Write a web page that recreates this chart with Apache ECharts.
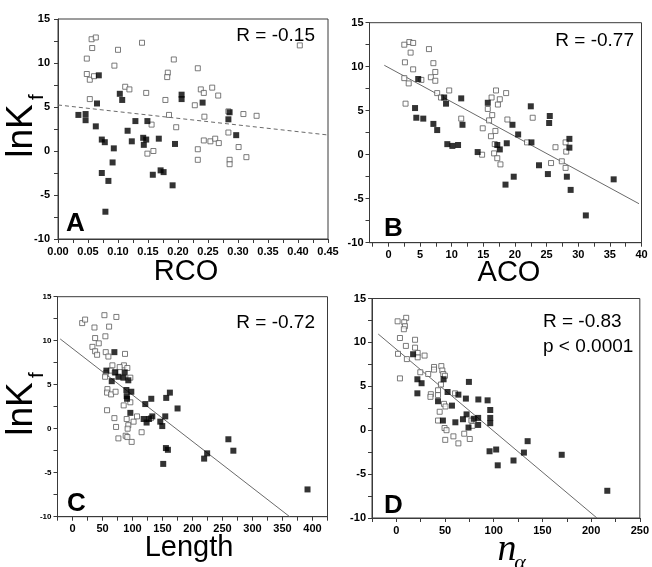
<!DOCTYPE html>
<html><head><meta charset="utf-8">
<script src="https://cdn.jsdelivr.net/npm/echarts/dist/echarts.min.js"></script>
<style>html,body{margin:0;padding:0;background:#fff}#c{width:652px;height:567px}</style>
</head><body><div id="c"></div>
<script>
// ---------- data ----------
const rcoFilled = [[0.034,4.1],[0.046,4.2],[0.046,3.5],[0.068,8.6],[0.065,5.4],[0.063,2.8],[0.073,1.3],[0.078,1.0],[0.073,-2.5],[0.084,-3.4],[0.079,-6.9],[0.093,0.3],[0.091,-1.3],[0.103,6.5],[0.107,5.8],[0.116,2.3],[0.123,1.1],[0.129,3.4],[0.142,1.5],[0.143,0.7],[0.147,1.3],[0.149,3.4],[0.158,-2.7],[0.168,1.4],[0.171,-2.2],[0.176,-2.4],[0.191,-3.9],[0.195,0.8],[0.206,6.4],[0.206,5.9],[0.241,5.5],[0.286,4.4],[0.284,3.6],[0.297,1.8]];
const rcoOpen = [[0.056,12.7],[0.063,12.9],[0.057,11.7],[0.048,10.5],[0.048,8.75],[0.053,8.1],[0.060,8.5],[0.053,5.9],[0.100,11.5],[0.094,9.7],[0.112,7.3],[0.119,7.0],[0.140,12.3],[0.147,6.6],[0.149,-0.3],[0.159,0.0],[0.156,3.0],[0.179,5.8],[0.185,4.1],[0.183,8.9],[0.182,8.4],[0.193,10.4],[0.197,2.7],[0.233,9.4],[0.228,5.2],[0.238,7.0],[0.243,6.6],[0.257,7.2],[0.267,6.3],[0.244,3.9],[0.233,0.2],[0.233,-1.0],[0.243,1.2],[0.254,1.1],[0.262,1.4],[0.268,0.9],[0.284,4.5],[0.284,2.1],[0.286,-1.0],[0.286,-1.5],[0.301,0.45],[0.309,4.2],[0.314,-0.7],[0.331,4.0],[0.403,12.0]];
const rcoFit = [[0,5.23],[0.45,1.82]];

const acoFilled = [[4.7,8.6],[4.2,5.3],[4.4,4.2],[5.5,4.1],[7.1,3.5],[7.7,2.8],[8.8,6.5],[9.1,5.8],[9.3,1.2],[10.1,1.0],[11.0,1.1],[11.5,6.4],[11.7,3.4],[14.1,0.3],[15.7,5.9],[17.2,1.1],[17.6,0.6],[18.5,-3.4],[18.7,1.3],[19.6,3.4],[19.8,-2.5],[20.5,2.3],[22.5,5.5],[22.6,1.4],[23.8,-1.2],[25.2,-2.2],[25.4,3.6],[25.5,4.4],[28.2,-2.5],[28.6,1.8],[28.6,0.8],[28.8,-4.0],[31.2,-6.9],[35.6,-2.8]];
const acoOpen = [[3.3,12.8],[2.5,12.5],[3.9,12.7],[3.5,11.6],[2.6,10.5],[3.9,9.7],[2.5,8.7],[3.2,8.1],[5.2,8.5],[2.7,5.8],[6.4,12.0],[7.1,10.4],[7.4,9.4],[6.7,8.8],[7.4,8.4],[7.7,7.0],[8.3,6.5],[9.6,7.3],[11.5,4.1],[14.9,3.0],[14.8,0.0],[17.0,7.3],[16.3,6.5],[17.3,5.7],[17.6,6.3],[18.6,7.0],[15.7,5.2],[15.9,3.9],[16.4,4.5],[16.2,2.1],[16.9,2.7],[16.8,1.2],[16.7,0.15],[17.2,-0.4],[17.7,-1.1],[18.8,4.0],[21.9,1.4],[22.8,4.2],[25.7,-0.95],[26.4,0.85],[27.4,-0.75],[28.0,1.4],[28.1,0.35],[28.0,-1.5]];
const acoFit = [[-0.66,10.16],[39.6,-5.57]];

const lengthFilled = [[69.8,8.7],[71.3,6.4],[56.5,6.6],[65.4,5.4],[76.5,5.9],[84.8,5.8],[87,6.4],[93,5.5],[89.8,4.4],[98,4.2],[90.3,3.7],[90.9,3.4],[96.4,1.8],[121.3,2.8],[131.3,3.4],[133,1.4],[118.6,1.1],[123.5,0.7],[127.4,1.1],[146.3,0.8],[149.6,0.3],[154.6,1.4],[156.2,3.5],[162.3,4.1],[175.1,2.3],[155.7,-2.2],[159,-2.4],[151.2,-4.0],[219.4,-3.4],[224.4,-2.8],[259.8,-1.2],[268.1,-2.5],[391.7,-6.9]];
const lengthOpen = [[16.1,12.0],[21,12.4],[53.2,12.9],[73.1,12.7],[61,11.6],[36.6,11.5],[54.8,10.5],[37.7,10.3],[43.8,9.7],[33.2,9.3],[37.7,8.8],[41,8.4],[55.4,8.7],[59.8,8.2],[87.5,8.5],[66.5,7.2],[85.7,7.2],[78.7,7.0],[63.7,6.6],[70.4,6.4],[91.4,6.9],[96.4,5.8],[55.4,6.3],[54.3,5.9],[58.2,4.5],[57.6,4.1],[64.3,3.9],[71.8,4.2],[96.4,3.0],[85.3,2.65],[57.6,2.1],[69.8,1.2],[72.6,0.2],[90.3,1.1],[93,0.4],[91.9,0.0],[101.8,0.8],[107.5,1.4],[115.2,-0.4],[130.7,1.2],[76.5,-1.1],[88.6,-0.8],[91.4,-0.95],[98.6,-1.5]];
const lengthFit = [[-20.5,10.2],[362,-10]];

const nAlphaFilled = [[17.2,8.65],[21.6,5.8],[25.9,5.35],[21.6,4.2],[48.5,5.8],[42.8,3.3],[47.8,1.1],[52.6,4.35],[57.1,2.8],[63.7,4.05],[71.4,3.6],[74.5,5.5],[84.2,3.5],[93.7,3.4],[96.4,2.3],[96.4,1.4],[96.4,0.8],[72.1,1.8],[68.4,1.25],[79.5,1.3],[84,1.4],[84,0.6],[74.1,0.3],[60.6,0.9],[95.7,-2.4],[102.5,-2.2],[104.1,-4.0],[120.3,-3.45],[131,-2.55],[134.8,-1.25],[169.8,-2.8],[216.6,-6.9]];
const nAlphaOpen = [[1.3,12.4],[10.1,12.8],[8.1,12.3],[8.8,11.85],[7.7,11.5],[3.7,10.5],[9.8,9.6],[1.7,8.7],[10.8,8.1],[3.7,5.9],[19.2,10.3],[19.2,9.4],[21.9,8.8],[21.9,8.3],[29,8.5],[24.6,6.6],[32.7,6.4],[38.7,7.2],[38.7,6.9],[46.2,7.3],[47.2,6.8],[48.2,6.4],[49.9,6.2],[45.8,5.2],[42.8,4.55],[35.4,4.1],[35,3.8],[42.8,4.0],[60.3,4.2],[48.9,3.0],[50.5,2.7],[44.5,2.1],[42.8,1.1],[49.5,0.25],[51.5,0.0],[50.2,-1.1],[58.6,-0.7],[63.7,-1.5],[69.7,-0.4],[75.4,-1.0],[78.2,0.5],[77.1,1.1]];
const nAlphaFit = [[-18.6,10.95],[206,-10]];

const yLabels = [-10,-5,0,5,10,15];
const yTicks = [-10,-7.5,-5,-2.5,0,2.5,5,7.5,10,12.5,15];
const rcoLabels = [0,0.05,0.1,0.15,0.2,0.25,0.3,0.35,0.4,0.45];
const rcoTicks = [0,0.025,0.05,0.075,0.1,0.125,0.15,0.175,0.2,0.225,0.25,0.275,0.3,0.325,0.35,0.375,0.4,0.425,0.45];
const acoLabels = [0,5,10,15,20,25,30,35,40];
const acoTicks = [-2.5,0,2.5,5,7.5,10,12.5,15,17.5,20,22.5,25,27.5,30,32.5,35,37.5,40];
const lengthLabels = [0,50,100,150,200,250,300,350,400];
const lengthTicks = [-25,0,25,50,75,100,125,150,175,200,225,250,275,300,325,350,375,400,425];
const nAlphaLabels = [0,50,100,150,200,250];
const nAlphaTicks = [-25,0,25,50,75,100,125,150,175,200,225,250];

const rTexts = ['R = -0.15','R = -0.77','R = -0.72','R = -0.83'];
const pText = 'p < 0.0001';
const panelLetters = ['A','B','C','D'];
const xTitles = ['RCO','ACO','Length'];

// ---------- build ----------
const FF = '"Liberation Sans", Arial, Helvetica, sans-serif';
const AX = '#3a3a3a';
const panels = [
  {grid:{left:58,top:19,width:270,height:220}, min:0, max:0.45, labels:rcoLabels, ticks:rcoTicks, fmt:v=>v.toFixed(2), filled:rcoFilled, open:rcoOpen, fit:rcoFit, dashed:true, ySize:11, yMargin:8},
  {grid:{left:369.5,top:22.7,width:272,height:220}, min:-3, max:40, labels:acoLabels, ticks:acoTicks, fmt:v=>String(v), filled:acoFilled, open:acoOpen, fit:acoFit, dashed:false, ySize:11, yMargin:6},
  {grid:{left:57.5,top:296.7,width:270,height:220}, min:-25, max:425, labels:lengthLabels, ticks:lengthTicks, fmt:v=>String(v), filled:lengthFilled, open:lengthOpen, fit:lengthFit, dashed:false, ySize:8, yMargin:6},
  {grid:{left:372,top:298.5,width:271,height:219.5}, min:-25, max:250, labels:nAlphaLabels, ticks:nAlphaTicks, fmt:v=>String(v), filled:nAlphaFilled, open:nAlphaOpen, fit:nAlphaFit, dashed:false, ySize:11, yMargin:6}
];

const grid=[], xAxis=[], yAxis=[], series=[];
panels.forEach((p,i)=>{
  grid.push(Object.assign({show:true, borderColor:AX, borderWidth:1, backgroundColor:'transparent', containLabel:false}, p.grid));
  xAxis.push({gridIndex:i, type:'value', min:p.min, max:p.max,
    axisLine:{show:true, onZero:false, lineStyle:{color:AX,width:1}},
    axisTick:{show:true, inside:false, length:4, customValues:p.ticks, lineStyle:{color:AX,width:1}},
    axisLabel:{show:true, customValues:p.labels, formatter:p.fmt, color:'#000', fontWeight:'bold', fontSize:11, fontFamily:FF, margin:7, hideOverlap:false},
    splitLine:{show:false}});
  yAxis.push({gridIndex:i, type:'value', min:-10, max:15,
    axisLine:{show:true, onZero:false, lineStyle:{color:AX,width:1}},
    axisTick:{show:true, inside:false, length:4, customValues:yTicks, lineStyle:{color:AX,width:1}},
    axisLabel:{show:true, customValues:yLabels, color:'#000', fontWeight:'bold', fontSize:p.ySize, fontFamily:FF, margin:p.yMargin, hideOverlap:false},
    splitLine:{show:false}});
  series.push({type:'line', xAxisIndex:i, yAxisIndex:i, data:p.fit, symbol:'none', silent:true, z:1,
    lineStyle:{color:'#6a6a6a', width:1, type:p.dashed?[4,3]:'solid'}});
  series.push({type:'scatter', xAxisIndex:i, yAxisIndex:i, data:p.open, symbol:'rect', symbolSize:5, z:2,
    itemStyle:{color:'#fff', borderColor:'#5a5a5a', borderWidth:1}});
  series.push({type:'scatter', xAxisIndex:i, yAxisIndex:i, data:p.filled, symbol:'rect', symbolSize:6, z:3,
    itemStyle:{color:'#000'}});
});

function txt(x,y,text,font,align,vAlign,rot){
  return {type:'text', x:x, y:y, rotation:rot||0, z:10,
    style:{text:text, font:font, fill:'#000', textAlign:align||'center', textVerticalAlign:vAlign||'middle'}};
}
const graphic = [
  txt(315,36,rTexts[0],'19px '+FF,'right'),
  txt(634,41,rTexts[1],'19px '+FF,'right'),
  txt(315,323,rTexts[2],'19px '+FF,'right'),
  txt(543,322,rTexts[3],'19px '+FF,'left'),
  txt(543,347,pText,'19px '+FF,'left'),
  txt(66,224,panelLetters[0],'bold 26px '+FF,'left'),
  txt(384,229,panelLetters[1],'bold 26px '+FF,'left'),
  txt(67,504,panelLetters[2],'bold 26px '+FF,'left'),
  txt(384,506,panelLetters[3],'bold 26px '+FF,'left'),
  txt(186,272,xTitles[0],'29px '+FF),
  txt(509,273,xTitles[1],'29px '+FF),
  txt(189,548,xTitles[2],'29px '+FF),
  txt(507,550,'n','italic 38px "Liberation Serif", "Times New Roman", serif'),
  txt(520,563,'α','italic 22px "Liberation Serif", "Times New Roman", serif'),
  txt(22,131,'lnK','37px '+FF,'center','middle',Math.PI/2),
  txt(37,97,'f','21px '+FF,'center','middle',Math.PI/2),
  txt(22,409,'lnK','37px '+FF,'center','middle',Math.PI/2),
  txt(37,375,'f','21px '+FF,'center','middle',Math.PI/2)
];

const chart = echarts.init(document.getElementById('c'), null, {renderer:'canvas'});
chart.setOption({animation:false, backgroundColor:'#fff', grid, xAxis, yAxis, series, graphic});
</script>
</body></html>
